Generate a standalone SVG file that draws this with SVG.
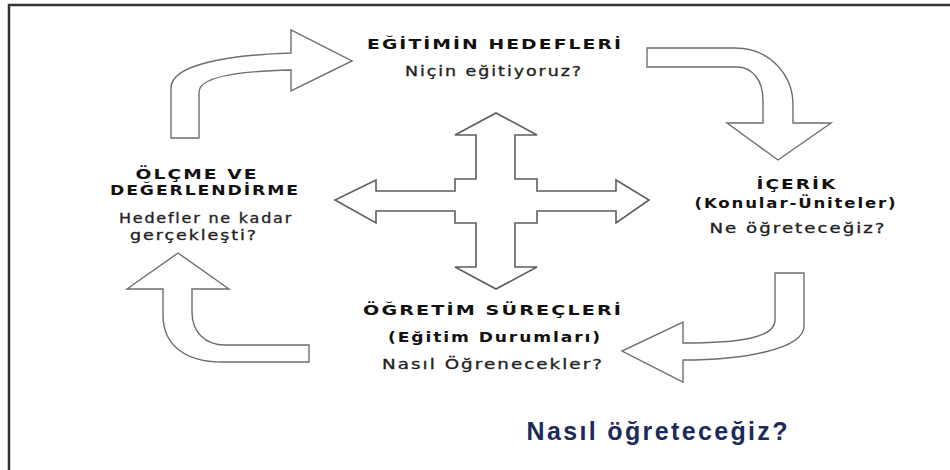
<svg xmlns="http://www.w3.org/2000/svg" width="950" height="470" viewBox="0 0 950 470">
  <style>
    .arrow { fill: #ffffff; stroke: #6e6e6e; stroke-width: 1.4; stroke-linejoin: miter; }
    .cross { fill: #ffffff; stroke: #5e5e5e; stroke-width: 1.6; }
    .head { font-family: "DejaVu Sans", "Liberation Sans", sans-serif; font-weight: bold; font-size: 13.5px; letter-spacing: 1.5px; fill: #111; text-anchor: middle; }
    .q { font-family: "DejaVu Sans", "Liberation Sans", sans-serif; font-size: 13.5px; letter-spacing: 1.5px; fill: #222; stroke: #222; stroke-width: 0.3; text-anchor: middle; }
    .big { font-family: "Liberation Sans", Arial, sans-serif; font-weight: bold; font-size: 25px; fill: #1c2b5a; text-anchor: middle; }
  </style>
  <rect x="0" y="0" width="950" height="470" fill="#ffffff"/>
  <path d="M9,470 V5 H950" fill="none" stroke="#333" stroke-width="2.5"/>

  <g id="connectors">
    <path id="arrow-top-left" class="arrow" d="M171,138 V88 C171,64 230,55 291,53 V30 L352,61 L291,91 V70 C245,71 199,76 199,92 V138 Z"/>
    <path id="arrow-top-right" class="arrow" d="M647,48 H735 C770,48 793,75 793,105 V123 H831 L778,160 L727,123 H763 V100 C763,80 752,67 737,67 H647 Z"/>
    <path id="arrow-bottom-right" class="arrow" d="M775,273 H804 V326 C804,350 740,360 683,360 V382 L622,351 L683,322 V343 C740,343 775,338 775,320 Z"/>
    <path id="arrow-bottom-left" class="arrow" d="M127,289 L178,253 L229,289 H192 V312 C192,332 205,345 225,345 H309 V362 H222 C185,362 163,345 163,315 V289 Z"/>
    <path id="cross" class="cross" d="M496,113 L537,135 H515 V179 H537 V191 H616 V180 L649,200 L616,223 V211 H537 V223 H515 V267 H537 L496,289 L455,267 H476 V223 H455 V211 H376 V223 L335,200 L376,180 V191 H455 V179 H476 V135 H455 Z"/>
  </g>

  <g id="node-hedefler">
    <text class="head" x="495" y="49" textLength="256" lengthAdjust="spacingAndGlyphs">EĞİTİMİN HEDEFLERİ</text>
    <text class="q" x="494" y="76" textLength="178" lengthAdjust="spacingAndGlyphs">Niçin eğitiyoruz?</text>
  </g>

  <g id="node-olcme">
    <text class="head" x="197" y="179" textLength="123" lengthAdjust="spacingAndGlyphs">ÖLÇME VE</text>
    <text class="head" x="205" y="195" textLength="190" lengthAdjust="spacingAndGlyphs">DEĞERLENDİRME</text>
    <text class="q" x="206" y="223" textLength="174" lengthAdjust="spacingAndGlyphs">Hedefler ne kadar</text>
    <text class="q" x="194" y="240" textLength="128" lengthAdjust="spacingAndGlyphs">gerçekleşti?</text>
  </g>

  <g id="node-icerik">
    <text class="head" x="797" y="189" textLength="81" lengthAdjust="spacingAndGlyphs">İÇERİK</text>
    <text class="head" x="796" y="208" textLength="203" lengthAdjust="spacingAndGlyphs">(Konular-Üniteler)</text>
    <text class="q" x="798" y="233" textLength="177" lengthAdjust="spacingAndGlyphs">Ne öğreteceğiz?</text>
  </g>

  <g id="node-surecler">
    <text class="head" x="493" y="315" textLength="260" lengthAdjust="spacingAndGlyphs">ÖĞRETİM SÜREÇLERİ</text>
    <text class="head" x="495" y="342" textLength="214" lengthAdjust="spacingAndGlyphs">(Eğitim Durumları)</text>
    <text class="q" x="493" y="369" textLength="222" lengthAdjust="spacingAndGlyphs">Nasıl Öğrenecekler?</text>
  </g>

  <g id="node-nasil">
    <text class="big" x="657" y="440" textLength="261">Nasıl öğreteceğiz?</text>
  </g>
</svg>
